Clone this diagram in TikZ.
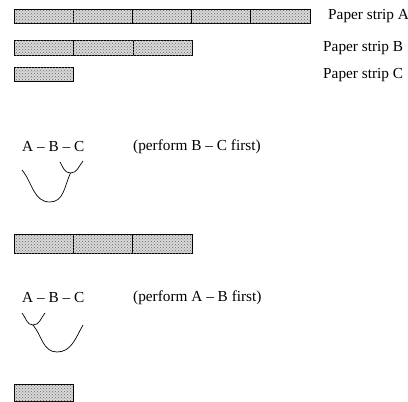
\documentclass[tikz,border=0pt]{standalone}
\usepackage{fontspec}
\setmainfont{Liberation Serif}
\usetikzlibrary{patterns}
\begin{document}
\begin{tikzpicture}[x=1pt,y=-1pt,
  cell/.style={draw=black,line width=0.8pt,fill=gray!30,inner sep=0pt,outer sep=0pt,anchor=north west,
    postaction={pattern=crosshatch dots,pattern color=gray!80!black}},
  lbl/.style={anchor=west,inner sep=0pt,font=\fontsize{15.3}{17}\selectfont},
  arc/.style={line width=0.7pt}]
\useasboundingbox (0,0) rectangle (408,402);
% strip A
\foreach \i in {0,...,4}{
  \node[cell,minimum width=59.2pt,minimum height=14pt] (a\i) at (14+59.2*\i,9) {};
}
\node[lbl] (la) at (328,16) {Paper strip A};
% strip B
\foreach \i in {0,...,2}{
  \node[cell,minimum width=59.6pt,minimum height=15pt] (b\i) at (14+59.6*\i,40) {};
}
\node[lbl] (lb) at (323,48) {Paper strip B};
% strip C
\node[cell,minimum width=59pt,minimum height=14pt] (c0) at (14,67) {};
\node[lbl] (lc) at (323,75) {Paper strip C};
% first expression
\node[lbl] (e1) at (22,147) {A -- B -- C};
\node[lbl] (p1) at (133,147) {(perform B -- C first)};
\coordinate (s1l) at (60,162);
\coordinate (s1b) at (70.5,173);
\coordinate (s1r) at (83,161);
\coordinate (b1l) at (22,170);
\coordinate (b1b) at (50,202);
\draw[arc] (s1l) to[out=-60,in=180] (s1b) to[out=0,in=-130] (s1r);
\draw[arc] (b1l) to[out=-50,in=180] (b1b) to[out=0,in=-115] (s1b);
% middle strip
\foreach \i in {0,...,2}{
  \node[cell,minimum width=59.3pt,minimum height=19pt] (m\i) at (14+59.3*\i,234) {};
}
% second expression
\node[lbl] (e2) at (22,298) {A -- B -- C};
\node[lbl] (p2) at (133,298) {(perform A -- B first)};
\coordinate (s2l) at (22,313);
\coordinate (s2b) at (33,325);
\coordinate (s2r) at (45,313);
\coordinate (b2b) at (57,352);
\coordinate (b2r) at (83,325);
\draw[arc] (s2l) to[out=-50,in=180] (s2b) to[out=0,in=-130] (s2r);
\draw[arc] (s2b) to[out=-50,in=180] (b2b) to[out=0,in=-120] (b2r);
% bottom strip
\node[cell,minimum width=59pt,minimum height=17pt] (d0) at (14,384) {};
\end{tikzpicture}
\end{document}
